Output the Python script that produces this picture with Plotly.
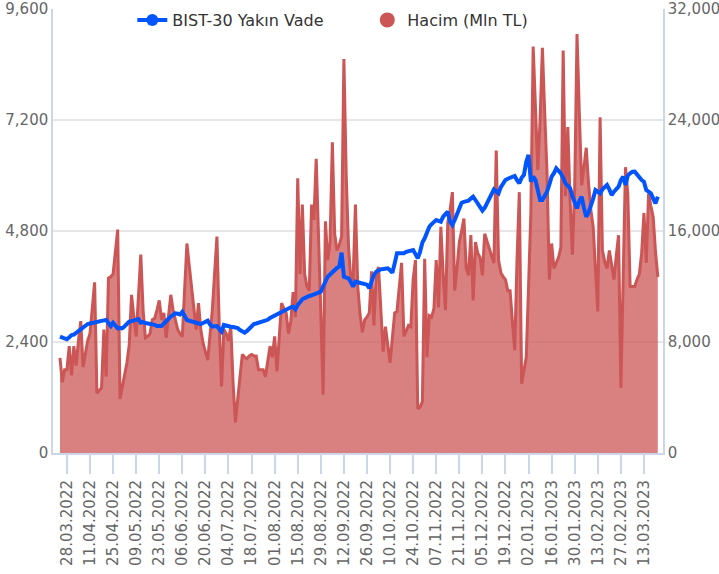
import pandas as pd
import plotly.graph_objects as go

dates = [d.strftime("%d.%m.%Y") for d in pd.bdate_range("2022-03-23", periods=260)]

volume = [
6850,5100,6000,6000,7700,5600,7700,6300,8100,9500,
6200,7200,8100,8600,10500,12300,4300,4500,4700,8900,
5500,12600,12700,12900,14500,16100,3900,4700,5500,6500,
7800,11400,9800,8400,11300,14300,10300,8300,8400,8600,
9600,9700,10300,11000,9600,10100,8300,9800,11400,10300,
9500,8900,8600,8400,11800,15100,13500,12000,10100,8900,
10800,8900,7900,7300,6700,8500,10300,13000,15600,9100,
4800,8900,8600,8100,9100,5000,2200,3900,5600,7100,
6900,6800,7000,7100,7000,7000,6000,6000,6000,5500,
6600,7700,6900,8400,5900,8600,10800,10400,10100,8600,
9500,11600,9800,19800,12900,17900,12900,12000,11700,17900,
16800,21200,16300,10100,4200,16700,13900,15200,22400,15800,
14600,15000,15600,28400,20000,14900,12500,12500,17900,12000,
10000,8700,9600,9800,10100,13100,9200,12900,13400,9800,
7300,9100,7800,6500,8300,10100,10200,12000,13700,8400,
8800,9200,9100,12500,13900,3200,3300,3700,14000,6900,
9900,9800,10400,13900,10500,16300,12900,10300,16600,17500,
18800,11700,13300,15200,16000,16900,13300,12800,15700,11000,
15200,14400,14100,12800,15800,15200,14800,14200,13700,21800,
13900,13000,12700,12500,11700,11700,9500,7400,13900,18800,
5000,5900,6900,12000,17300,29300,25000,20400,24000,29200,
24500,20200,12500,15100,13300,13700,14100,14800,29000,18500,
23500,18200,14300,19200,30200,24500,19300,20600,22000,19400,
17500,16300,12900,10200,24200,14600,13800,13300,14600,13500,
12500,14200,15700,4700,12500,20600,18700,12000,12000,12000,
12500,12900,14400,17300,13700,18700,17800,17000,14500,12700,
]

bist = [
2515,2490,2470,2458,2500,2551,2560,2600,2630,2659,
2700,2750,2789,2800,2815,2825,2839,2850,2860,2868,
2876,2800,2746,2817,2760,2696,2700,2696,2740,2790,
2839,2850,2870,2890,2897,2817,2830,2810,2800,2795,
2789,2770,2746,2750,2746,2800,2861,2900,2950,2984,
3020,3010,2995,3055,2980,2876,2860,2850,2839,2820,
2800,2789,2810,2840,2861,2780,2731,2740,2746,2680,
2623,2768,2750,2740,2731,2725,2718,2700,2660,2620,
2601,2640,2700,2760,2789,2800,2817,2830,2840,2854,
2880,2920,2947,2970,3000,3020,3050,3090,3120,3135,
3150,3163,3107,3200,3280,3323,3350,3380,3395,3410,
3430,3450,3470,3488,3600,3720,3812,3860,3910,3950,
4000,4028,4331,3812,3790,3777,3700,3596,3704,3690,
3680,3675,3669,3640,3561,3700,3850,3920,3950,3972,
3980,3990,3993,3950,3898,4100,4318,4320,4310,4318,
4350,4370,4389,4389,4300,4210,4350,4550,4642,4760,
4893,4950,5000,5038,5020,5001,5109,5160,5217,5000,
4930,5038,5150,5300,5412,5430,5445,5455,5500,5542,
5470,5384,5320,5239,5300,5400,5470,5600,5701,5660,
5615,5750,5850,5903,5930,5950,5970,5989,5900,5831,
5950,6011,6300,6443,5866,5974,5900,5700,5470,5470,
5560,5650,5800,5974,6050,6155,6100,6047,5950,5831,
5780,5723,5550,5400,5291,5450,5542,5300,5109,5200,
5326,5500,5686,5650,5615,5700,5760,5795,5700,5578,
5650,5720,5758,5900,5974,5795,6000,6047,6080,6083,
6020,5974,5900,5866,5686,5650,5615,5500,5398,5542,
]

tick_labels = dates[3::10]
left_ticks = [0, 2400, 4800, 7200, 9600]
right_ticks = [0, 8000, 16000, 24000, 32000]

RED = "rgb(204,85,85)"
RED_FILL = "rgba(204,85,85,0.75)"
BLUE = "#0055ff"
FONT = "DejaVu Sans"

fig = go.Figure()
fig.add_trace(go.Scatter(
    x=dates, y=volume, mode="lines", fill="tozeroy",
    line=dict(color=RED, width=3), fillcolor=RED_FILL,
    yaxis="y", showlegend=False, name="Hacim (Mln TL)"))
fig.add_trace(go.Scatter(
    x=dates, y=bist, mode="lines",
    line=dict(color=BLUE, width=4),
    yaxis="y2", showlegend=False, name="BIST-30 Yakın Vade"))
# legend entries
fig.add_trace(go.Scatter(
    x=[None], y=[None], mode="lines+markers", yaxis="y2",
    line=dict(color=BLUE, width=4), marker=dict(size=12, color=BLUE),
    name="BIST-30 Yakın Vade"))
fig.add_trace(go.Scatter(
    x=[None], y=[None], mode="markers", yaxis="y",
    marker=dict(size=15, color=RED), name="Hacim (Mln TL)"))

fig.update_layout(
    width=719, height=574,
    margin=dict(l=53, r=56, t=9, b=121, pad=0, autoexpand=False),
    paper_bgcolor="white", plot_bgcolor="white",
    font=dict(family=FONT, size=15, color="#666666"),
    xaxis=dict(
        type="category", range=[-3.03, 261.25], automargin=False,
        showgrid=False, showline=True, linecolor="#ccd6eb", linewidth=2,
        ticks="outside", ticklen=19, tickcolor="#ccd6eb", tickwidth=1.5,
        tickvals=tick_labels, ticktext=tick_labels, tickangle=-90,
        tickfont=dict(family=FONT, size=15, color="#666666"),
    ),
    yaxis=dict(
        side="right", range=[0, 32000], tickvals=right_ticks, automargin=False,
        tickformat=",", showgrid=True, gridcolor="#e6e6e6", gridwidth=2,
        showline=True, linecolor="#ccd6eb", linewidth=1.5, zeroline=False,
        ticks="", tickfont=dict(family=FONT, size=15, color="#666666"),
    ),
    yaxis2=dict(
        overlaying="y", side="left", range=[0, 9600], tickvals=left_ticks,
        automargin=False, tickformat=",", showgrid=False,
        showline=True, linecolor="#ccd6eb", linewidth=1.5, zeroline=False,
        ticks="", tickfont=dict(family=FONT, size=15, color="#666666"),
    ),
    legend=dict(
        orientation="h", x=0.13, xanchor="left", y=1.0135, yanchor="top",
        bgcolor="rgba(0,0,0,0)", font=dict(family=FONT, size=16, color="#333333"),
        entrywidth=190, traceorder="normal",
    ),
)

fig.write_html("out.html", config={"displayModeBar": False},
               post_script="document.body.style.margin='0';")
